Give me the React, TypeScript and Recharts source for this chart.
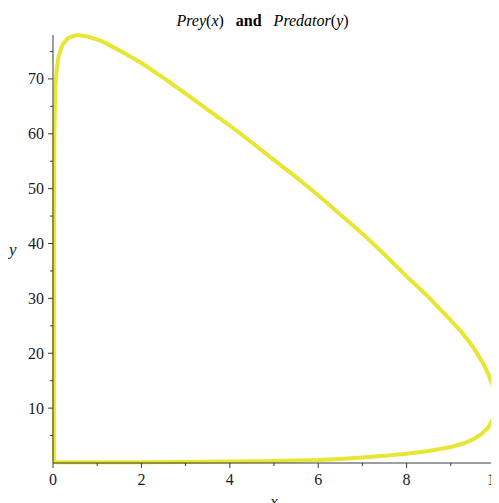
import { LineChart, Line, XAxis, YAxis } from 'recharts';

// prey / predator orbit, traced counter-clockwise from the bottom-left corner
const preyX = [
  0.02, 1, 2, 3, 4, 5, 6, 6.5, 7, 7.5, 8, 8.5, 9, 9.3, 9.5, 9.7, 9.85, 9.95, 10,
  9.99, 9.95, 9.85, 9.7, 9.5, 9.25, 9, 8.5, 8, 7.5, 7, 6.5, 6, 5.5, 5, 4.5, 4,
  3.5, 3, 2.5, 2, 1.5, 1.1, 0.8, 0.55, 0.35, 0.22, 0.13, 0.08, 0.05, 0.03, 0.02,
  0.02, 0.02, 0.02,
];
const predatorY = [
  0.15, 0.15, 0.15, 0.2, 0.28, 0.38, 0.55, 0.75, 1.0, 1.3, 1.7, 2.2, 2.9, 3.6,
  4.3, 5.3, 6.5, 8.0, 10.0, 12.0, 14, 16.2, 18.6, 21.2, 23.8, 26.0, 30.2, 34, 38,
  41.8, 45.3, 48.8, 52.1, 55.2, 58.4, 61.5, 64.4, 67.3, 70.2, 72.9, 75.2, 76.9,
  77.7, 78, 77.5, 76.3, 74.3, 71.5, 68, 60, 40, 20, 5, 0.15,
];
const xTicks = [0, 1, 2, 3, 4, 5, 6, 7, 8, 9, 10];
const yTicks = [5, 10, 15, 20, 25, 30, 35, 40, 45, 50, 55, 60, 65, 70, 75];

const orbit = preyX.map((x, i) => ({ x, y: predatorY[i] }));

const serif = '"Liberation Serif", "Times New Roman", serif';
const axisColor = '#3c3c3c';

function XTick(props: any) {
  const { x, y, payload } = props;
  const major = payload.value % 2 === 0;
  return (
    <g>
      <line x1={x} x2={x} y1={y} y2={y + (major ? 5 : 3)} stroke={axisColor} />
      {major && (
        <text x={x} y={y + 22} textAnchor="middle" fontFamily={serif} fontSize={16} fill="#1a1a2a">
          {payload.value}
        </text>
      )}
    </g>
  );
}

function YTick(props: any) {
  const { x, y, payload } = props;
  const major = payload.value % 10 === 0;
  return (
    <g>
      <line x1={x} x2={x - (major ? 5 : 3)} y1={y} y2={y} stroke={axisColor} />
      {major && (
        <text x={x - 9} y={y} dy="0.35em" textAnchor="end" fontFamily={serif} fontSize={16} fill="#1a1a2a">
          {payload.value}
        </text>
      )}
    </g>
  );
}

export default function App() {
  return (
    <div style={{ position: 'relative', width: 491, height: 495 }}>
      <div
        style={{
          position: 'absolute',
          top: 4,
          left: 7,
          width: 495,
          textAlign: 'center',
          fontFamily: serif,
          fontSize: 16,
          lineHeight: '18px',
          color: '#000',
          whiteSpace: 'pre',
        }}
      >
        <i>Prey</i>(<i>x</i>)   <b>and</b>   <i>Predator</i>(<i>y</i>)
      </div>
      <LineChart
        width={491}
        height={495}
        data={orbit}
        margin={{ top: 27, right: 4, bottom: 0, left: 0 }}
      >
        <XAxis
          dataKey="x"
          type="number"
          domain={[0, 10]}
          ticks={xTicks}
          interval={0}
          height={40}
          tickSize={0}
          tickMargin={0}
          tickLine={false}
          tick={(p: any) => <XTick {...p} />}
          axisLine={{ stroke: axisColor }}
          label={{ value: 'x', position: 'insideBottom', offset: -4, fontFamily: serif, fontStyle: 'italic', fontSize: 17, fill: '#1a1a2a' }}
        />
        <YAxis
          type="number"
          domain={[0, 78]}
          ticks={yTicks}
          interval={0}
          width={45}
          tickSize={0}
          tickMargin={0}
          tickLine={false}
          tick={(p: any) => <YTick {...p} />}
          axisLine={{ stroke: axisColor }}
          label={{ value: 'y', position: 'insideLeft', offset: 1, fontFamily: serif, fontStyle: 'italic', fontSize: 17, fill: '#1a1a2a' }}
        />
        <Line
          dataKey="y"
          type="linear"
          stroke="#e6e633"
          strokeWidth={4}
          dot={false}
          isAnimationActive={false}
        />
      </LineChart>
    </div>
  );
}
